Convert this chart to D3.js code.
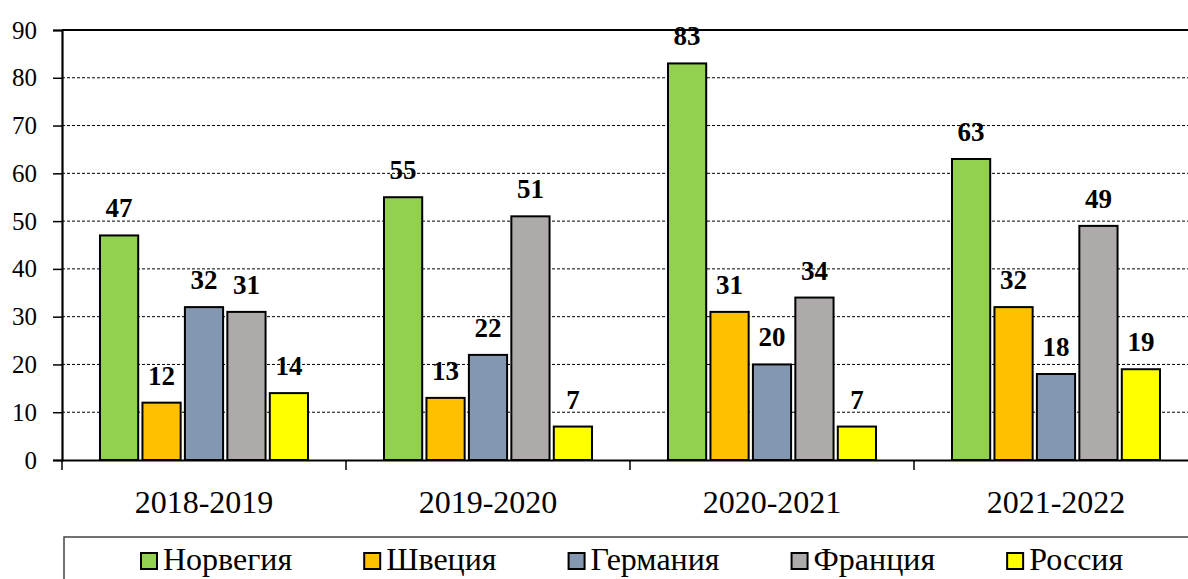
<!DOCTYPE html>
<html>
<head>
<meta charset="utf-8">
<script src="https://cdn.jsdelivr.net/npm/d3@7"></script>
<style>
  body { margin: 0; background: #fff; overflow: hidden; }
  svg text { font-family: 'Liberation Serif', 'Times New Roman', serif; fill: #000; }
</style>
</head>
<body>
<svg id="chart" width="1188" height="579"></svg>
<script>
// data
var categories = ['2018-2019', '2019-2020', '2020-2021', '2021-2022'];
var countries = ['Норвегия', 'Швеция', 'Германия', 'Франция', 'Россия'];
var colors = ['#92D050', '#FFC000', '#8497B0', '#AEAAAA', '#FFFF00'];
var norway = [47, 55, 83, 63];
var sweden = [12, 13, 31, 32];
var germany = [32, 22, 20, 18];
var france = [31, 51, 34, 49];
var russia = [14, 7, 7, 19];
var yTicks = [0, 10, 20, 30, 40, 50, 60, 70, 80, 90];

var seriesValues = [norway, sweden, germany, france, russia];
var serif = "'Liberation Serif', 'Times New Roman', serif";

var svg = d3.select('#chart').attr('font-family', serif);

// plot area (right side runs past the window, as in the picture)
var plotLeft = 62, plotRight = 1198, plotTop = 30, plotBottom = 460;

var x0 = d3.scaleBand().domain(categories).range([plotLeft, plotRight]);
var x1 = d3.scaleBand().domain(countries).range([38, x0.bandwidth() - 38]).paddingInner(0.1);
var y = d3.scaleLinear().domain([0, 90]).range([plotBottom, plotTop]);

// grid lines
svg.append('g')
    .selectAll('line')
    .data(yTicks.filter(function (d) { return d > 0 && d < 90; }))
    .enter()
    .append('line')
    .attr('x1', plotLeft).attr('x2', plotRight)
    .attr('y1', function (d) { return y(d); })
    .attr('y2', function (d) { return y(d); })
    .attr('stroke', '#000')
    .attr('stroke-width', 1)
    .attr('stroke-dasharray', '3,2');

// top border of plot
svg.append('line')
    .attr('x1', plotLeft).attr('x2', plotRight)
    .attr('y1', y(90)).attr('y2', y(90))
    .attr('stroke', '#000').attr('stroke-width', 2);

// y axis
var yAxis = d3.axisLeft(y).tickValues(yTicks).tickSize(9).tickPadding(16);
var gy = svg.append('g').attr('transform', 'translate(' + plotLeft + ',0)').call(yAxis)
    .attr('font-family', serif).attr('font-size', 25);
gy.select('.domain').attr('stroke', '#000').attr('stroke-width', 2.2);
gy.selectAll('.tick line').attr('stroke', '#000').attr('stroke-width', 1.5);
gy.selectAll('.tick text')
    .attr('font-family', serif)
    .attr('font-size', 25)
    .attr('fill', '#000');

// bars
var groups = svg.append('g')
    .selectAll('g')
    .data(categories)
    .enter()
    .append('g')
    .attr('transform', function (d) { return 'translate(' + x0(d) + ',0)'; });

groups.selectAll('rect')
    .data(function (d, i) {
        return countries.map(function (c, j) { return { country: c, value: seriesValues[j][i], color: colors[j] }; });
    })
    .enter()
    .append('rect')
    .attr('x', function (d) { return x1(d.country); })
    .attr('y', function (d) { return y(d.value); })
    .attr('width', x1.bandwidth())
    .attr('height', function (d) { return y(0) - y(d.value); })
    .attr('fill', function (d) { return d.color; })
    .attr('stroke', '#000')
    .attr('stroke-width', 2);

// value labels
groups.selectAll('text.val')
    .data(function (d, i) {
        return countries.map(function (c, j) { return { country: c, value: seriesValues[j][i] }; });
    })
    .enter()
    .append('text')
    .attr('class', 'val')
    .attr('x', function (d) { return x1(d.country) + x1.bandwidth() / 2; })
    .attr('y', function (d) { return y(d.value) - 18; })
    .attr('text-anchor', 'middle')
    .attr('font-family', serif)
    .attr('font-size', 27)
    .attr('font-weight', 'bold')
    .text(function (d) { return d.value; });

// x axis
var xAxis = d3.axisBottom(x0).tickSize(0).tickPadding(30);
var gx = svg.append('g').attr('transform', 'translate(0,' + plotBottom + ')').call(xAxis)
    .attr('font-family', serif).attr('font-size', 32);
gx.select('.domain').attr('stroke', '#000').attr('stroke-width', 2.2);
gx.selectAll('.tick text')
    .attr('font-family', serif)
    .attr('font-size', 32)
    .attr('fill', '#000');

// category separators
svg.append('g')
    .selectAll('line')
    .data(categories)
    .enter()
    .append('line')
    .attr('x1', function (d) { return x0(d); })
    .attr('x2', function (d) { return x0(d); })
    .attr('y1', plotBottom).attr('y2', plotBottom + 10)
    .attr('stroke', '#000').attr('stroke-width', 1.5);

// legend
var legend = svg.append('g');
legend.append('rect')
    .attr('x', 64).attr('y', 537)
    .attr('width', 1200).attr('height', 80)
    .attr('fill', 'none')
    .attr('stroke', '#444')
    .attr('stroke-width', 1.5);

var lx = 141;
countries.forEach(function (c, i) {
    legend.append('rect')
        .attr('x', lx).attr('y', 553)
        .attr('width', 16).attr('height', 16)
        .attr('fill', colors[i])
        .attr('stroke', '#000')
        .attr('stroke-width', 2);
    var t = legend.append('text')
        .attr('x', lx + 22).attr('y', 570)
        .attr('font-family', serif)
        .attr('font-size', 32)
        .text(c);
    lx = lx + 22 + t.node().getComputedTextLength() + 72;
});
</script>
</body>
</html>
